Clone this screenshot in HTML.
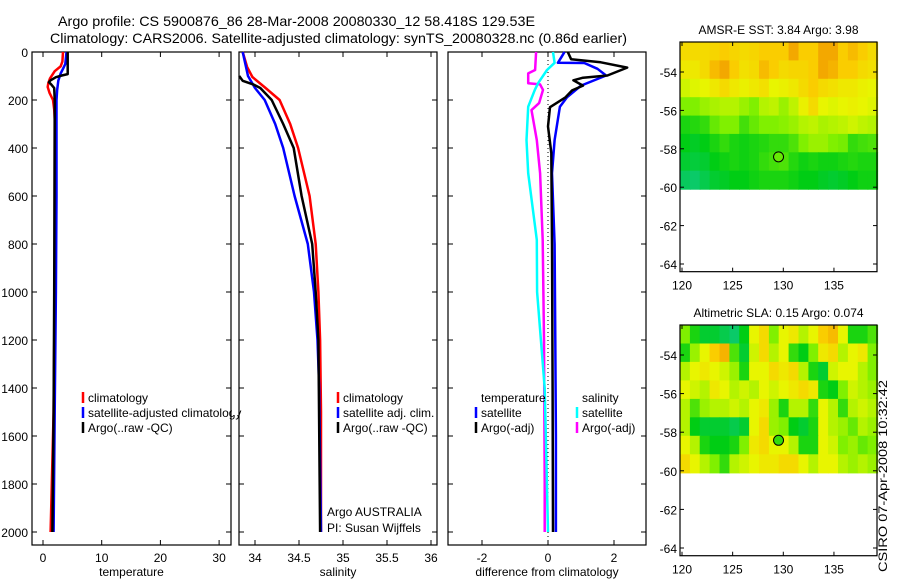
<!DOCTYPE html>
<html><head><meta charset="utf-8"><style>
body{margin:0;background:#fff;}
svg{display:block;font-family:"Liberation Sans",sans-serif;}
text{fill:#000;}
</style></head><body>
<svg id="chart" width="900" height="580" viewBox="0 0 900 580">
<text x="58" y="26" font-size="14" textLength="477" lengthAdjust="spacingAndGlyphs">Argo profile: CS 5900876_86 28-Mar-2008 20080330_12 58.418S 129.53E</text>
<text x="50" y="43" font-size="14" textLength="577" lengthAdjust="spacingAndGlyphs">Climatology: CARS2006. Satellite-adjusted climatology: synTS_20080328.nc (0.86d earlier)</text>
<g id="g"></g>
<text transform="translate(887,572) rotate(-90)" font-size="12" textLength="192" lengthAdjust="spacingAndGlyphs">CSIRO 07-Apr-2008 10:32:42</text>
</svg>
<script>
// ---------- data ----------
const depthTicks=[0,200,400,600,800,1000,1200,1400,1600,1800,2000];
const tempTicks=[0,10,20,30];
const salTicks=[34,34.5,35,35.5,36];
const salTickLabels=["34","34.5","35","35.5","36"];
const diffTicks=[-2,0,2];
// temperature profiles [depth, value]
const tClimD=[0,40,60,80,110,130,146,170,200,240,280,400,1000,1500,1800,2000];
const tClimV=[3.4,3.3,3.0,2.0,1.2,0.9,0.8,1.1,1.7,1.9,2.0,2.0,2.0,1.8,1.5,1.3];
const tSatD=[0,50,70,90,120,160,200,600,1000,1500,2000];
const tSatV=[4.0,3.8,3.4,3.0,2.6,2.4,2.3,2.3,2.2,2.0,1.8];
const tArgoD=[0,92,98,105,118,126,135,150,200,300,1000,1500,2000];
const tArgoV=[4.2,4.2,3.2,2.2,1.3,1.0,1.4,1.9,2.0,2.0,1.9,1.8,1.6];
// salinity profiles
const sClimD=[0,62,104,150,200,300,400,600,800,1000,1200,1500,2000];
const sClimV=[33.86,33.91,33.97,34.12,34.28,34.40,34.49,34.62,34.69,34.72,34.74,34.75,34.75];
const sSatD=[0,100,150,200,300,400,600,800,1000,1200,1400,2000];
const sSatV=[33.86,33.92,34.0,34.11,34.23,34.32,34.45,34.60,34.67,34.71,34.73,34.75];
const sArgoD=[100,120,135,150,200,300,400,600,800,1000,1200,2000];
const sArgoV=[33.82,33.86,33.98,34.06,34.19,34.32,34.44,34.53,34.65,34.69,34.72,34.74];
// difference profiles
const dTSatD=[0,18,45,46,70,98,140,188,228,367,505,800,1200,1600,2000];
const dTSatV=[0.5,0.42,0.3,1.1,1.5,1.76,1.0,0.58,0.36,0.2,0.12,0.2,0.22,0.24,0.24];
const dTArgoD=[0,30,43,65,98,107,118,140,160,190,230,310,420,800,1400,2000];
const dTArgoV=[0.6,0.7,1.6,2.4,1.8,1.06,0.77,1.06,0.73,0.52,0.06,0.0,0.1,0.12,0.14,0.15];
const dSSatD=[0,45,75,130,158,228,367,505,783,1000,1400,1700,2000];
const dSSatV=[0.15,0.2,-0.03,-0.3,-0.4,-0.6,-0.65,-0.6,-0.34,-0.33,-0.1,-0.05,0.0];
const dSArgoD=[0,75,89,130,135,158,213,242,367,505,783,1200,1800,2000];
const dSArgoV=[-0.36,-0.39,-0.6,-0.6,-0.24,-0.15,-0.27,-0.5,-0.34,-0.24,-0.16,-0.12,-0.1,-0.1];
// map data (rows top->bottom, cols west->east), normalized 0..1 colour index
const sstVals=[
[0.8,0.8,0.8,0.82,0.85,0.82,0.8,0.82,0.85,0.85,0.85,0.95,0.85,0.85,0.95,0.95,0.85,0.9,0.85,0.8],
[0.75,0.75,0.8,0.9,0.95,0.85,0.78,0.8,0.9,0.85,0.8,0.82,0.82,0.85,0.95,0.92,0.85,0.85,0.8,0.78],
[0.65,0.68,0.7,0.75,0.8,0.75,0.72,0.75,0.78,0.7,0.72,0.75,0.8,0.85,0.8,0.78,0.75,0.75,0.72,0.7],
[0.5,0.5,0.55,0.58,0.6,0.6,0.55,0.5,0.6,0.62,0.55,0.62,0.72,0.8,0.7,0.68,0.7,0.72,0.7,0.68],
[0.3,0.32,0.35,0.45,0.5,0.5,0.38,0.45,0.5,0.5,0.52,0.55,0.6,0.62,0.58,0.6,0.62,0.65,0.62,0.6],
[0.25,0.22,0.25,0.3,0.35,0.3,0.28,0.3,0.32,0.35,0.35,0.4,0.5,0.55,0.55,0.5,0.48,0.35,0.38,0.4],
[0.2,0.18,0.2,0.25,0.28,0.3,0.28,0.3,0.35,0.38,0.4,0.32,0.28,0.3,0.28,0.28,0.3,0.32,0.3,0.3],
[0.12,0.1,0.15,0.2,0.22,0.25,0.25,0.28,0.3,0.3,0.3,0.28,0.25,0.25,0.22,0.2,0.22,0.25,0.28,0.28]];
const slaVals=[
[0.5,0.3,0.2,0.2,0.15,0.1,0.25,0.7,0.8,0.5,0.7,0.75,0.6,0.7,0.85,0.9,0.7,0.3,0.3,0.4],
[0.3,0.55,0.7,0.85,0.92,0.4,0.2,0.65,0.8,0.6,0.7,0.35,0.25,0.5,0.75,0.8,0.6,0.7,0.75,0.5],
[0.6,0.7,0.75,0.7,0.65,0.55,0.3,0.7,0.7,0.8,0.75,0.8,0.6,0.3,0.2,0.65,0.7,0.7,0.6,0.5],
[0.7,0.65,0.6,0.75,0.7,0.6,0.65,0.6,0.7,0.65,0.7,0.75,0.8,0.75,0.3,0.25,0.5,0.65,0.6,0.55],
[0.6,0.4,0.55,0.6,0.6,0.65,0.6,0.7,0.75,0.55,0.3,0.6,0.6,0.35,0.7,0.6,0.35,0.6,0.65,0.6],
[0.6,0.25,0.2,0.2,0.2,0.15,0.2,0.7,0.8,0.55,0.5,0.25,0.2,0.3,0.7,0.6,0.55,0.45,0.6,0.55],
[0.7,0.6,0.3,0.25,0.25,0.3,0.5,0.75,0.8,0.7,0.7,0.6,0.3,0.3,0.7,0.65,0.5,0.55,0.45,0.5],
[0.8,0.7,0.6,0.5,0.35,0.6,0.65,0.7,0.75,0.75,0.8,0.8,0.7,0.6,0.7,0.7,0.6,0.55,0.6,0.55]];
const lonTicks=[120,125,130,135];
const latTicks=[-54,-56,-58,-60,-62,-64];
const argoLon=129.53, argoLat=-58.42;

// ---------- helpers ----------
const NS="http://www.w3.org/2000/svg";
const G=document.getElementById('g');
function mk(tag,attrs,parent){const e=document.createElementNS(NS,tag);for(const k in attrs)e.setAttribute(k,attrs[k]);(parent||G).appendChild(e);return e;}
function txt(x,y,s,size,anchor,name){const t=mk('text',{x:x,y:y,'font-size':size,'text-anchor':anchor||'start'});t.textContent=s;


return t;}
const TOP=52,BOT=545;
const yD=d=>52+d*0.24;

function panel(x0,x1,xScale,ticks,labels,xlabel,name,showY){
  const g=mk('g',{});
  
  
  const r=mk('rect',{x:x0,y:TOP,width:x1-x0,height:BOT-TOP,fill:'none',stroke:'#000','stroke-width':1.2},g);
  
  
  depthTicks.forEach(d=>{const y=yD(d);
    mk('line',{x1:x0,y1:y,x2:x0+5,y2:y,stroke:'#000'},g);mk('line',{x1:x1,y1:y,x2:x1-5,y2:y,stroke:'#000'},g);
    if(showY){txt(x0-4,y+5,String(d),12,'end','depth-tick-label');}
  });
  ticks.forEach((v,i)=>{const x=xScale(v);
    mk('line',{x1:x,y1:BOT,x2:x,y2:BOT-5,stroke:'#000'},g);mk('line',{x1:x,y1:TOP,x2:x,y2:TOP+5,stroke:'#000'},g);
    txt(x,BOT+17,labels[i],12,'middle','x-tick-label');
  });
  txt((x0+x1)/2,BOT+31,xlabel,12,'middle','x-axis-title');
}
function line(D,V,xs,color,name,w){
  const pts=D.map((d,i)=>xs(V[i]).toFixed(1)+','+yD(d).toFixed(1)).join(' ');
  const p=mk('polyline',{points:pts,fill:'none',stroke:color,'stroke-width':w||2.5,'stroke-linejoin':'round'});
  
  
}
function legend(x,y,items){
  items.forEach((it,i)=>{const yy=y+i*15;
    if(it[1]){const b=mk('line',{x1:x,y1:yy-10,x2:x,y2:yy+1,stroke:it[1],'stroke-width':2.5});
      
      }
    txt(x+5,yy,it[0],12,'start','legend-entry');
  });
}

// ---------- panel 1: temperature ----------
const xT=t=>43+t*5.87;
panel(32,231,xT,tempTicks,tempTicks.map(String),'temperature','temperature-panel',true);
line(tClimD,tClimV,xT,'#f00','temp-climatology-line');
line(tSatD,tSatV,xT,'#00f','temp-satellite-line');
line(tArgoD,tArgoV,xT,'#000','temp-argo-line');
legend(83,402,[['climatology','#f00'],['satellite-adjusted climatology','#00f'],['Argo(..raw -QC)','#000']]);
mk('rect',{x:232,y:385,width:7,height:30,fill:'#fff'});

// ---------- panel 2: salinity ----------
const xS=s=>255+(s-34)*88;
panel(239,437,xS,salTicks,salTickLabels,'salinity','salinity-panel',false);
line(sClimD,sClimV,xS,'#f00','sal-climatology-line');
line(sSatD,sSatV,xS,'#00f','sal-satellite-line');
line(sArgoD,sArgoV,xS,'#000','sal-argo-line');
legend(338,402,[['climatology','#f00'],['satellite adj. clim.','#00f'],['Argo(..raw -QC)','#000']]);
txt(327,516,'Argo AUSTRALIA',12,'start','argo-program-label');
txt(327,532,'PI: Susan Wijffels',12,'start','pi-label');

// ---------- panel 3: difference ----------
const xDf=v=>548+v*33;
panel(448,646,xDf,diffTicks,diffTicks.map(String),'difference from climatology','difference-panel',false);
const zl=mk('line',{x1:xDf(0),y1:TOP,x2:xDf(0),y2:BOT,stroke:'#000','stroke-dasharray':'1,3'});


line(dSArgoD,dSArgoV,xDf,'#f0f','diff-sal-argo-line');
line(dSSatD,dSSatV,xDf,'#0ff','diff-sal-satellite-line');
line(dTSatD,dTSatV,xDf,'#00f','diff-temp-satellite-line');
line(dTArgoD,dTArgoV,xDf,'#000','diff-temp-argo-line');
legend(476,402,[['temperature',null],['satellite','#00f'],['Argo(-adj)','#000']]);
legend(577,402,[['salinity',null],['satellite','#0ff'],['Argo(-adj)','#f0f']]);

// ---------- maps ----------
const stops=[[0,[16,200,160]],[0.25,[0,205,20]],[0.5,[128,240,0]],[0.7,[232,245,0]],[0.85,[250,205,0]],[1,[240,150,0]]];
function cmap(v){for(let i=1;i<stops.length;i++){if(v<=stops[i][0]){const a=stops[i-1],b=stops[i],f=(v-a[0])/(b[0]-a[0]);
 const c=a[1].map((q,k)=>Math.round(q+(b[1][k]-q)*f));return 'rgb('+c.join(',')+')';}}return 'rgb(240,150,0)';}
function map(x0,x1,yTop,lat54y,pxPerLat,vals,title,name,markFill){
  const lx=lon=>682+(lon-120)*10.13;
  const ly=lat=>lat54y+(-54-lat)*pxPerLat;
  const g=mk('g',{});
  
  
  const yBot=ly(-64.4);
  const lonW=119.8,lonE=139.3,latN=-53+(yTop-ly(-53))/-pxPerLat,latS=-60.1;
  const nr=vals.length,nc=vals[0].length;
  const dLon=(lonE-lonW)/nc,dLat=(latN-latS)/nr;
  vals.forEach((row,r)=>row.forEach((v,c)=>{
    const xa=lx(lonW+c*dLon),xb=lx(lonW+(c+1)*dLon),ya=ly(latN-r*dLat),yb=ly(latN-(r+1)*dLat);
    const cell=mk('rect',{x:xa.toFixed(1),y:ya.toFixed(1),width:(xb-xa+0.6).toFixed(1),height:(yb-ya+0.6).toFixed(1),fill:cmap(v)},g);
    
    
  }));
  const fr=mk('rect',{x:x0,y:yTop,width:x1-x0,height:yBot-yTop,fill:'none',stroke:'#000','stroke-width':1.2},g);
  
  
  latTicks.forEach(l=>{const y=ly(l);mk('line',{x1:x0,y1:y,x2:x0+4,y2:y,stroke:'#000'},g);mk('line',{x1:x1,y1:y,x2:x1-4,y2:y,stroke:'#000'},g);
    txt(x0-3,y+5,String(l),12,'end','lat-tick-label');});
  lonTicks.forEach(l=>{const x=lx(l);mk('line',{x1:x,y1:yBot,x2:x,y2:yBot-4,stroke:'#000'},g);mk('line',{x1:x,y1:yTop,x2:x,y2:yTop+4,stroke:'#000'},g);
    txt(x,yBot+18,String(l),12,'middle','lon-tick-label');});
  txt((x0+x1)/2,yTop-8,title,12,'middle','map-title');
  const m=mk('circle',{cx:lx(argoLon),cy:ly(argoLat),r:5,fill:markFill,stroke:'#000','stroke-width':1},g);
  
  
}
map(680,877,42,72,19.2,sstVals,'AMSR-E SST: 3.84 Argo: 3.98','sst-map',cmap(0.45));
map(680,877,325,355,19.3,slaVals,'Altimetric SLA: 0.15 Argo: 0.074','sla-map',cmap(0.35));
</script>
</body></html>
